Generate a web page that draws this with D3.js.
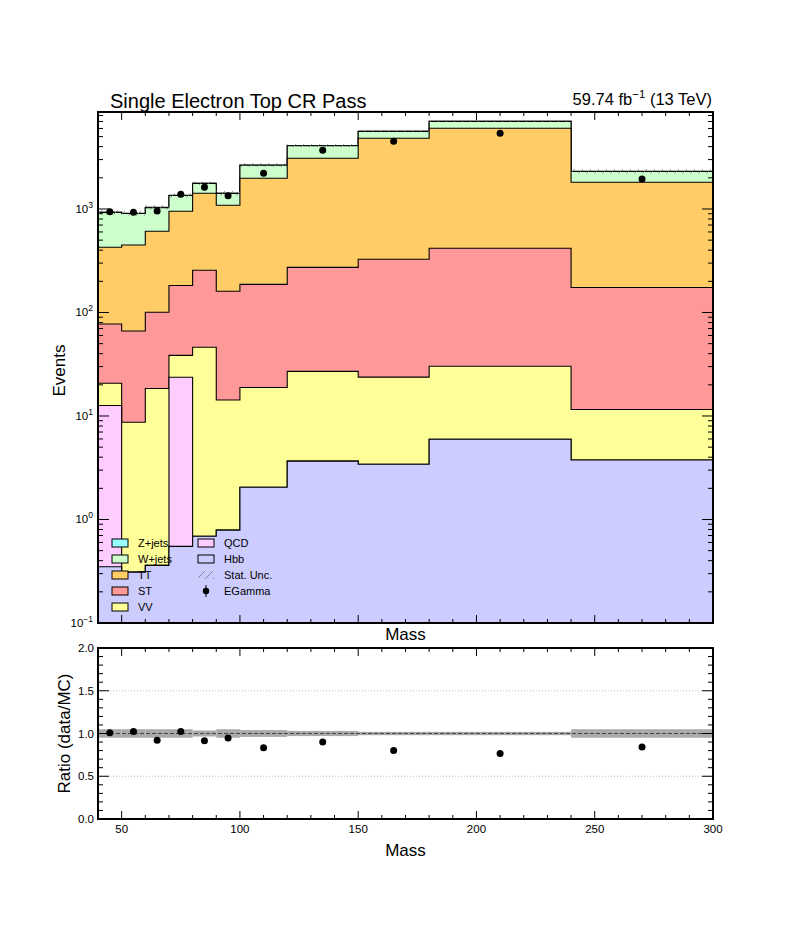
<!DOCTYPE html>
<html>
<head>
<meta charset="utf-8">
<script src="https://cdn.jsdelivr.net/npm/d3@7"></script>
<style>
  body { margin:0; background:#fff; }
  text { font-family: "Liberation Sans", Arial, Helvetica, sans-serif; fill:#000; }
</style>
</head>
<body>
<svg id="c" width="792" height="936"></svg>
<script>
// ---------------- DATA ----------------
const binEdges = [40, 50, 60, 70, 80, 90, 100, 120, 150, 180, 240, 300];
const hbb   = [0.35, 0.31, 0.36, 0.55, 0.69, 0.79, 2.05, 3.66, 3.42, 5.96, 3.76];
const qcd   = [12.3, 0, 0, 23.1, 0, 0, 0, 0, 0, 0, 0];
const vv    = [8.05, 8.4, 18.1, 14.9, 45.4, 13.5, 16.8, 23.3, 20.3, 24.3, 7.8];
const st    = [56.7, 57.5, 82, 144, 210, 146, 168, 246, 303, 387, 163];
const tt    = [350, 383, 508, 767, 1162, 926, 1795, 2817, 4492, 5609, 1636];
const wjets = [499, 456, 421, 401, 348, 328, 667, 988, 803, 995, 493];
const zjets = [3, 3, 8, 4, 5, 4, 12, 15, 12, 15, 8];
const egamma = [938, 929, 957, 1387, 1622, 1345, 2215, 3691, 4520, 5383, 1945];
const statUnc = [0.05, 0.05, 0.05, 0.05, 0.035, 0.05, 0.04, 0.03, 0.02, 0.02, 0.05];

const processNames = ["Hbb", "QCD", "VV", "ST", "TT", "W+jets", "Z+jets"];
const processValues = [hbb, qcd, vv, st, tt, wjets, zjets];
const processColors = ["#ccccff", "#ffccff", "#ffff99", "#ff9999", "#ffcc66", "#ccffcc", "#99ffff"];

const xTicksMajor = [50, 100, 150, 200, 250, 300];
const ratioTicks = [0, 0.5, 1.0, 1.5, 2.0];
const logDecades = [-1, 0, 1, 2, 3];

// ---------------- LAYOUT ----------------
const svg = d3.select("#c");
const L = 98, Rr = 713, T1 = 112, B1 = 623, T2 = 648, B2 = 819;
const x = d3.scaleLinear().domain([40, 300]).range([L, Rr]);
const y = d3.scaleLog().domain([0.1, 8650]).range([B1, T1]);
const yr = d3.scaleLinear().domain([0, 2]).range([B2, T2]);
const nb = binEdges.length - 1;

// cumulative stacks
const cum = [];
let run = new Array(nb).fill(0);
processValues.forEach(v => { run = run.map((r, i) => r + v[i]); cum.push(run.slice()); });
const total = cum[cum.length - 1];

const defs = svg.append("defs");
defs.append("clipPath").attr("id", "clipTop").append("rect")
  .attr("x", L).attr("y", T1).attr("width", Rr - L).attr("height", B1 - T1);
defs.append("clipPath").attr("id", "clipBot").append("rect")
  .attr("x", L).attr("y", T2).attr("width", Rr - L).attr("height", B2 - T2);
const pat = defs.append("pattern").attr("id", "hatch").attr("patternUnits", "userSpaceOnUse")
  .attr("width", 8).attr("height", 8);
pat.append("path").attr("d", "M0,8 L8,0 M-2,2 L2,-2 M6,10 L10,6")
  .attr("stroke", "#777").attr("stroke-width", 0.8);

function stepPts(vals) {
  const pts = vals.map((v, i) => [binEdges[i], v]);
  pts.push([binEdges[nb], vals[nb - 1]]);
  return pts;
}
const area = d3.area().curve(d3.curveStepAfter)
  .x(d => x(d[0])).y0(B1 + 5).y1(d => y(Math.max(d[1], 0.01)));

// ---------------- TOP PANEL ----------------
const gTop = svg.append("g").attr("clip-path", "url(#clipTop)");
for (let k = cum.length - 1; k >= 0; k--) {
  gTop.append("path").datum(stepPts(cum[k]))
    .attr("d", area).attr("fill", processColors[k])
    .attr("stroke", "#000").attr("stroke-width", 1.1);
}
// stat unc hatch band
gTop.selectAll("rect.unc").data(d3.range(nb)).join("rect")
  .attr("x", i => x(binEdges[i])).attr("width", i => x(binEdges[i + 1]) - x(binEdges[i]))
  .attr("y", i => y(total[i] * (1 + statUnc[i])))
  .attr("height", i => y(total[i] * (1 - statUnc[i])) - y(total[i] * (1 + statUnc[i])))
  .attr("fill", "url(#hatch)");
// data points
const centers = d3.range(nb).map(i => (binEdges[i] + binEdges[i + 1]) / 2);
gTop.selectAll("line.err").data(d3.range(nb)).join("line")
  .attr("x1", i => x(centers[i])).attr("x2", i => x(centers[i]))
  .attr("y1", i => y(egamma[i] + Math.sqrt(egamma[i])))
  .attr("y2", i => y(egamma[i] - Math.sqrt(egamma[i])))
  .attr("stroke", "#000").attr("stroke-width", 1);
gTop.selectAll("circle").data(d3.range(nb)).join("circle")
  .attr("cx", i => x(centers[i])).attr("cy", i => y(egamma[i])).attr("r", 3.5).attr("fill", "#000");

// ---------------- RATIO PANEL ----------------
const gBot = svg.append("g").attr("clip-path", "url(#clipBot)");
[0.5, 1.5].forEach(v => gBot.append("line").attr("x1", L).attr("x2", Rr)
  .attr("y1", yr(v)).attr("y2", yr(v)).attr("stroke", "#aaa").attr("stroke-width", 0.8)
  .attr("stroke-dasharray", "1,2"));
gBot.selectAll("rect.band").data(d3.range(nb)).join("rect")
  .attr("x", i => x(binEdges[i])).attr("width", i => x(binEdges[i + 1]) - x(binEdges[i]))
  .attr("y", i => yr(1 + statUnc[i])).attr("height", i => yr(1 - statUnc[i]) - yr(1 + statUnc[i]))
  .attr("fill", "#aaaaaa");
gBot.append("line").attr("x1", L).attr("x2", Rr).attr("y1", yr(1)).attr("y2", yr(1))
  .attr("stroke", "#444").attr("stroke-width", 1).attr("stroke-dasharray", "4,2");
const ratio = egamma.map((d, i) => d / total[i]);
const ratioErr = egamma.map((d, i) => Math.sqrt(d) / total[i]);
gBot.selectAll("line.rerr").data(d3.range(nb)).join("line")
  .attr("x1", i => x(centers[i])).attr("x2", i => x(centers[i]))
  .attr("y1", i => yr(ratio[i] + ratioErr[i])).attr("y2", i => yr(ratio[i] - ratioErr[i]))
  .attr("stroke", "#000").attr("stroke-width", 1);
gBot.selectAll("circle").data(d3.range(nb)).join("circle")
  .attr("cx", i => x(centers[i])).attr("cy", i => yr(ratio[i])).attr("r", 3.5).attr("fill", "#000");

// ---------------- AXES / TICKS ----------------
const ax = svg.append("g").attr("stroke", "#000").attr("stroke-width", 1);
const xMinor = d3.range(40, 301, 10);
function xTicks(top, bot) {
  xMinor.forEach(v => {
    const len = (v % 50 === 0) ? 8 : 4;
    ax.append("line").attr("x1", x(v)).attr("x2", x(v)).attr("y1", bot).attr("y2", bot - len);
    ax.append("line").attr("x1", x(v)).attr("x2", x(v)).attr("y1", top).attr("y2", top + len);
  });
}
xTicks(T1, B1);
xTicks(T2, B2);
// log y ticks
logDecades.forEach(d => {
  for (let m = 1; m <= 9; m++) {
    const v = m * Math.pow(10, d);
    if (v < 0.1 || v > 8650) continue;
    const len = m === 1 ? 11 : 5;
    ax.append("line").attr("x1", L).attr("x2", L + len).attr("y1", y(v)).attr("y2", y(v));
    ax.append("line").attr("x1", Rr).attr("x2", Rr - len).attr("y1", y(v)).attr("y2", y(v));
  }
});
// ratio y ticks
d3.range(0, 21).forEach(k => {
  const v = k / 10;
  const len = (k % 5 === 0) ? 11 : 5;
  ax.append("line").attr("x1", L).attr("x2", L + len).attr("y1", yr(v)).attr("y2", yr(v));
  ax.append("line").attr("x1", Rr).attr("x2", Rr - len).attr("y1", yr(v)).attr("y2", yr(v));
});
// frames
svg.append("rect").attr("x", L).attr("y", T1).attr("width", Rr - L).attr("height", B1 - T1)
  .attr("fill", "none").attr("stroke", "#000").attr("stroke-width", 2);
svg.append("rect").attr("x", L).attr("y", T2).attr("width", Rr - L).attr("height", B2 - T2)
  .attr("fill", "none").attr("stroke", "#000").attr("stroke-width", 2);

// tick labels
logDecades.forEach(d => {
  const t = svg.append("text").attr("x", 93).attr("y", y(Math.pow(10, d)) + 4)
    .attr("text-anchor", "end").attr("font-size", 11.5);
  t.append("tspan").text("10");
  t.append("tspan").attr("dy", -5).attr("font-size", 8.5).text(d < 0 ? "\u2212" + (-d) : d);
});
ratioTicks.forEach(v => svg.append("text").attr("x", 94).attr("y", yr(v) + 4)
  .attr("text-anchor", "end").attr("font-size", 11.5).text(v.toFixed(1)));
xTicksMajor.forEach(v => svg.append("text").attr("x", x(v)).attr("y", 833)
  .attr("text-anchor", "middle").attr("font-size", 11.5).text(v));

// axis titles
svg.append("text").attr("x", (L + Rr) / 2).attr("y", 640).attr("text-anchor", "middle")
  .attr("font-size", 17).text("Mass");
svg.append("text").attr("x", (L + Rr) / 2).attr("y", 856).attr("text-anchor", "middle")
  .attr("font-size", 17).text("Mass");
svg.append("text").attr("transform", `translate(65,${(T1 + B1) / 2 + 3}) rotate(-90)`)
  .attr("text-anchor", "middle").attr("font-size", 17).text("Events");
svg.append("text").attr("transform", `translate(70,${(T2 + B2) / 2}) rotate(-90)`)
  .attr("text-anchor", "middle").attr("font-size", 17).text("Ratio (data/MC)");

// title & lumi
svg.append("text").attr("x", 110).attr("y", 108).attr("font-size", 20).text("Single Electron Top CR Pass");
const lumi = svg.append("text").attr("x", 712).attr("y", 105).attr("text-anchor", "end").attr("font-size", 16.5);
lumi.append("tspan").text("59.74 fb");
lumi.append("tspan").attr("dy", -7).attr("font-size", 11.5).text("\u22121");
lumi.append("tspan").attr("dy", 7).text(" (13 TeV)");

// ---------------- LEGEND ----------------
const leg = svg.append("g");
const col1 = [["Z+jets", "#99ffff"], ["W+jets", "#ccffcc"], ["TT", "#ffcc66"], ["ST", "#ff9999"], ["VV", "#ffff99"]];
col1.forEach((e, i) => {
  const cy = 543 + i * 16;
  leg.append("rect").attr("x", 112).attr("y", cy - 4).attr("width", 16).attr("height", 8)
    .attr("fill", e[1]).attr("stroke", "#000").attr("stroke-width", 1);
  leg.append("text").attr("x", 138).attr("y", cy + 4).attr("font-size", 11).text(e[0]);
});
const col2y = [543, 559, 575, 591];
leg.append("rect").attr("x", 198).attr("y", col2y[0] - 4).attr("width", 16).attr("height", 8)
  .attr("fill", "#ffccff").attr("stroke", "#000");
leg.append("text").attr("x", 224).attr("y", col2y[0] + 4).attr("font-size", 11).text("QCD");
leg.append("rect").attr("x", 198).attr("y", col2y[1] - 4).attr("width", 16).attr("height", 8)
  .attr("fill", "#ccccff").attr("stroke", "#000");
leg.append("text").attr("x", 224).attr("y", col2y[1] + 4).attr("font-size", 11).text("Hbb");
leg.append("rect").attr("x", 198).attr("y", col2y[2] - 4).attr("width", 16).attr("height", 8)
  .attr("fill", "url(#hatch)");
leg.append("text").attr("x", 224).attr("y", col2y[2] + 4).attr("font-size", 11).text("Stat. Unc.");
leg.append("line").attr("x1", 206).attr("x2", 206).attr("y1", col2y[3] - 6).attr("y2", col2y[3] + 6)
  .attr("stroke", "#000").attr("stroke-width", 1);
leg.append("circle").attr("cx", 206).attr("cy", col2y[3]).attr("r", 3.2).attr("fill", "#000");
leg.append("text").attr("x", 224).attr("y", col2y[3] + 4).attr("font-size", 11).text("EGamma");
</script>
</body>
</html>
